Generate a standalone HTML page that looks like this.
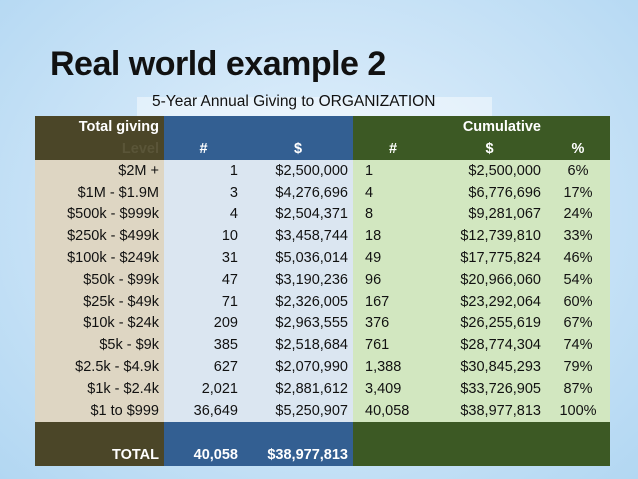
<!DOCTYPE html>
<html><head><meta charset="utf-8"><style>
body{margin:0;width:638px;height:479px;overflow:hidden;font-family:"Liberation Sans",sans-serif;}
#slide{position:absolute;left:0;top:0;width:638px;height:479px;background:radial-gradient(ellipse at 50% 45%,#e6f3fc 0%,#cfe6f8 45%,#b2d7f2 100%);}
#title{position:absolute;left:50px;top:45px;font-size:34px;font-weight:bold;color:#111;letter-spacing:-0.5px;}
#subbox{position:absolute;left:137px;top:97px;width:355px;height:19px;background:rgba(255,255,255,0.45);}
#sub{position:absolute;left:152px;top:93px;font-size:15.5px;color:#111;}
table{position:absolute;left:35px;top:116px;border-collapse:collapse;table-layout:fixed;font-size:14.5px;}
td{padding:0 5px;white-space:nowrap;color:#111;}
.h1 td,.h2 td,.tot td{color:#fff;font-weight:bold;}
.h1 td{height:22px;} .h2 td{height:22px;}
tr.d td{height:21.8px;}
.tot td{height:41px;vertical-align:bottom;padding-bottom:3px;}
.lb{background:#4b4628;text-align:right;}
.bl{background:#335f92;}
.gr{background:#3c5924;}
.ld{background:#ded6c3;text-align:right;}
.bd{background:#dbe6f1;text-align:right;}
.gd{background:#d2e7c0;}
.c{text-align:center;} .r{text-align:right;}
</style></head><body>
<div id="slide"></div>
<div id="title">Real world example 2</div>
<div id="subbox"></div>
<div id="sub">5-Year Annual Giving to ORGANIZATION</div>
<table>
<colgroup><col style="width:129px"><col style="width:79px"><col style="width:110px"><col style="width:80px"><col style="width:113px"><col style="width:64px"></colgroup>
<tr class="h1"><td class="lb">Total giving</td><td class="bl"></td><td class="bl"></td><td class="gr"></td><td class="gr r">Cumulative</td><td class="gr"></td></tr>
<tr class="h2"><td class="lb" style="color:#5a5538">Level</td><td class="bl c">#</td><td class="bl c">$</td><td class="gr c">#</td><td class="gr c">$</td><td class="gr c">%</td></tr>
<tbody id="body"></tbody>
<tr class="tot"><td class="lb">TOTAL</td><td class="bl r">40,058</td><td class="bl r">$38,977,813</td><td class="gr"></td><td class="gr"></td><td class="gr"></td></tr>
</table>
<script>
const levels=["$2M +","$1M - $1.9M","$500k - $999k","$250k - $499k","$100k - $249k","$50k - $99k","$25k - $49k","$10k - $24k","$5k - $9k","$2.5k - $4.9k","$1k - $2.4k","$1 to $999"];
const counts=["1","3","4","10","31","47","71","209","385","627","2,021","36,649"];
const amounts=["$2,500,000","$4,276,696","$2,504,371","$3,458,744","$5,036,014","$3,190,236","$2,326,005","$2,963,555","$2,518,684","$2,070,990","$2,881,612","$5,250,907"];
const cumCounts=["1","4","8","18","49","96","167","376","761","1,388","3,409","40,058"];
const cumAmounts=["$2,500,000","$6,776,696","$9,281,067","$12,739,810","$17,775,824","$20,966,060","$23,292,064","$26,255,619","$28,774,304","$30,845,293","$33,726,905","$38,977,813"];
const pcts=["6%","17%","24%","33%","46%","54%","60%","67%","74%","79%","87%","100%"];
const body=document.getElementById('body');
levels.forEach((l,i)=>{
  const tr=document.createElement('tr');tr.className='d';
  
  
  const cells=[[l,'ld'],[counts[i],'bd'],[amounts[i],'bd'],[cumCounts[i],'gd'],[cumAmounts[i],'gd r'],[pcts[i],'gd c']];
  cells.forEach(([t,c],j)=>{const td=document.createElement('td');td.className=c;td.textContent=t;if(j===3)td.style.paddingLeft='12px';tr.appendChild(td);});
  body.appendChild(tr);
});
</script>
</body></html>
